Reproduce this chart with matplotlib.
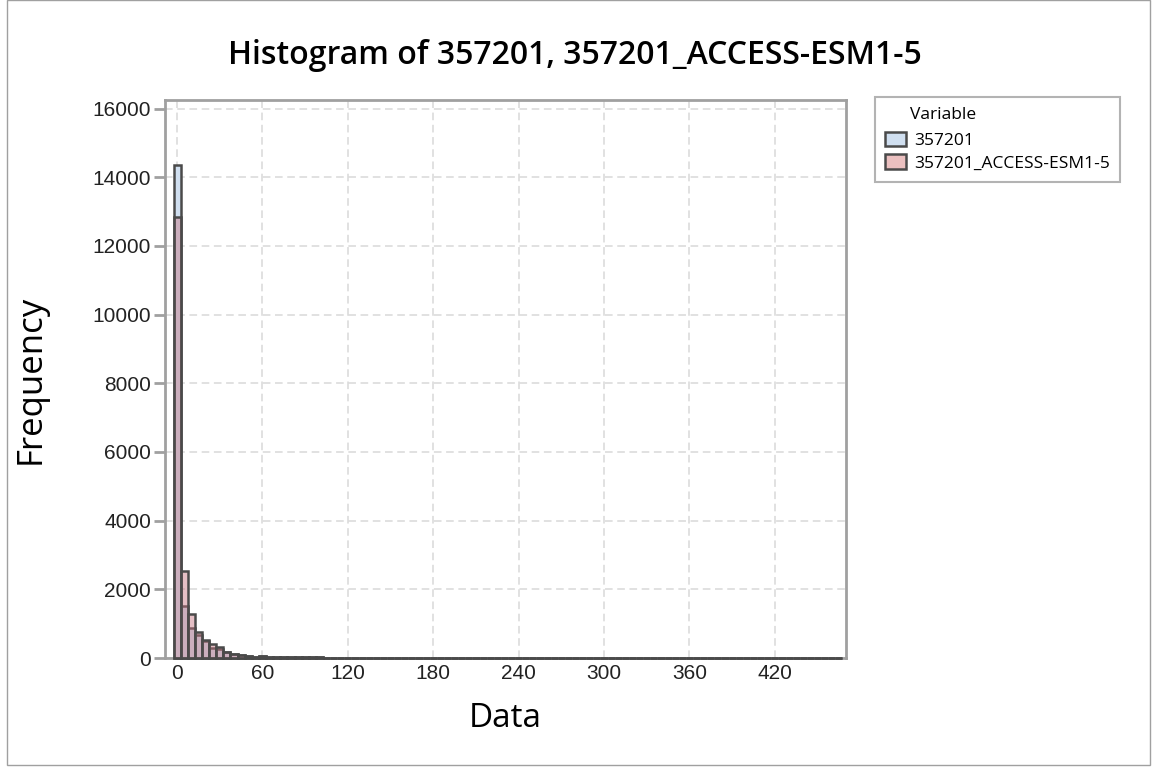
import numpy as np
import matplotlib
matplotlib.use('Agg')
import matplotlib.pyplot as plt
from matplotlib.patches import Patch, Rectangle

# histogram counts, bins of width 5 centred on 0, 5, 10, ...
obs_counts = [14370, 1520, 866, 671, 505, 300, 250, 168, 110, 90,
              50, 25, 60, 40, 40, 38, 35, 35, 32, 30,
              25, 4, 3, 3, 2, 2, 2, 1, 1, 1,
              1, 1, 1, 0, 1, 0, 1, 0, 0, 1,
              0, 0, 1, 0, 0, 0, 0, 1, 0, 0,
              0, 0, 0, 0, 0, 0, 0, 0, 0, 0,
              0, 0, 0, 0, 0, 0, 0, 0, 0, 0,
              0, 0, 0, 0, 0, 0, 0, 0, 0, 0,
              0, 0, 0, 0, 0, 0, 0, 0, 0, 0,
              0, 0, 0, 1]
model_counts = [12840, 2530, 1290, 767, 515, 400, 330, 168, 110, 90,
                50, 20, 55, 38, 36, 35, 33, 32, 30, 28,
                22, 4, 3, 2, 2, 2, 1, 1, 1, 1,
                1, 0, 1, 0, 0, 1, 0, 0, 0, 0,
                0, 0, 0, 0, 0, 0, 0, 0, 0, 0,
                0, 0, 0, 0, 0, 0, 0, 0, 0, 0,
                0, 0, 0, 0, 0, 0, 0, 0, 0, 0,
                0, 0, 0, 0, 0, 0, 0, 0, 0, 0,
                0, 0, 0, 0, 0, 0, 0, 0, 0, 0,
                0, 0, 0, 0]
bin_width = 5
series_names = ['357201', '357201_ACCESS-ESM1-5']
x_ticks = [0, 60, 120, 180, 240, 300, 360, 420]
y_ticks = [0, 2000, 4000, 6000, 8000, 10000, 12000, 14000, 16000]

centers = np.arange(len(obs_counts)) * bin_width

blue = '#d0dff0'
red_rgba = (0.78, 0.45, 0.50, 0.45)
edge = '#4a4a4a'
spine_c = '#a0a0a0'

fig = plt.figure(figsize=(11.57, 7.71), dpi=100)
ax = fig.add_axes([165 / 1157, 1 - 658 / 771, (846 - 165) / 1157, (658 - 100) / 771])

ax.bar(centers, obs_counts, width=bin_width, color=blue, edgecolor=edge,
       linewidth=1.8, zorder=3, clip_on=False)
ax.bar(centers, model_counts, width=bin_width, facecolor=red_rgba,
       edgecolor=edge, linewidth=1.8, zorder=4, clip_on=False)

ax.set_xlim(-8.5, 470)
ax.set_ylim(0, 16250)
ax.set_xticks(x_ticks)
ax.set_yticks(y_ticks)
ax.grid(True, linestyle=(0, (5, 3)), color='#d9d9d9', linewidth=1.1, zorder=0)
for s in ax.spines.values():
    s.set_color(spine_c)
    s.set_linewidth(2)
ax.tick_params(axis='y', length=8, width=2, color=spine_c, pad=2,
               labelsize=15)
ax.tick_params(axis='x', length=0, pad=4, labelsize=15)
for lbl in ax.get_xticklabels() + ax.get_yticklabels():
    lbl.set_family('Liberation Sans')
    lbl.set_color('#222222')

ax.set_xlabel('Data', fontsize=24, family='Open Sans', labelpad=14)
ax.set_ylabel('Frequency', fontsize=25, family='Open Sans', labelpad=32)
fig.text(575 / 1157, 1 - 56 / 771, 'Histogram of 357201, 357201_ACCESS-ESM1-5',
         ha='center', va='center', fontsize=23, family='Open Sans',
         weight='semibold')

handles = [Patch(facecolor=blue, edgecolor=edge, linewidth=1.8),
           Patch(facecolor='#ebc0c0', edgecolor=edge, linewidth=1.8)]
leg = fig.legend(handles, series_names, title='Variable', loc='upper left',
                 bbox_to_anchor=(875 / 1157, 1 - 97 / 771),
                 prop={'family': 'Open Sans', 'size': 12.5},
                 title_fontproperties={'family': 'Open Sans', 'size': 12.5},
                 fancybox=False, frameon=True, borderpad=0.6,
                 handlelength=1.2, handleheight=0.9, handletextpad=0.45,
                 labelspacing=0.3, borderaxespad=0)
leg.get_frame().set_edgecolor(spine_c)
leg.get_frame().set_linewidth(1.5)
leg._legend_box.align = 'left'
leg._legend_box.sep = 6
leg.get_title().set_position((25, 0))

# outer frame around the figure
fig.patches.append(Rectangle((7 / 1157, 6 / 771), 1143 / 1157, 765 / 771,
                             transform=fig.transFigure, fill=False,
                             edgecolor='#a0a0a0', linewidth=1))

fig.savefig('out.png', dpi=100)
